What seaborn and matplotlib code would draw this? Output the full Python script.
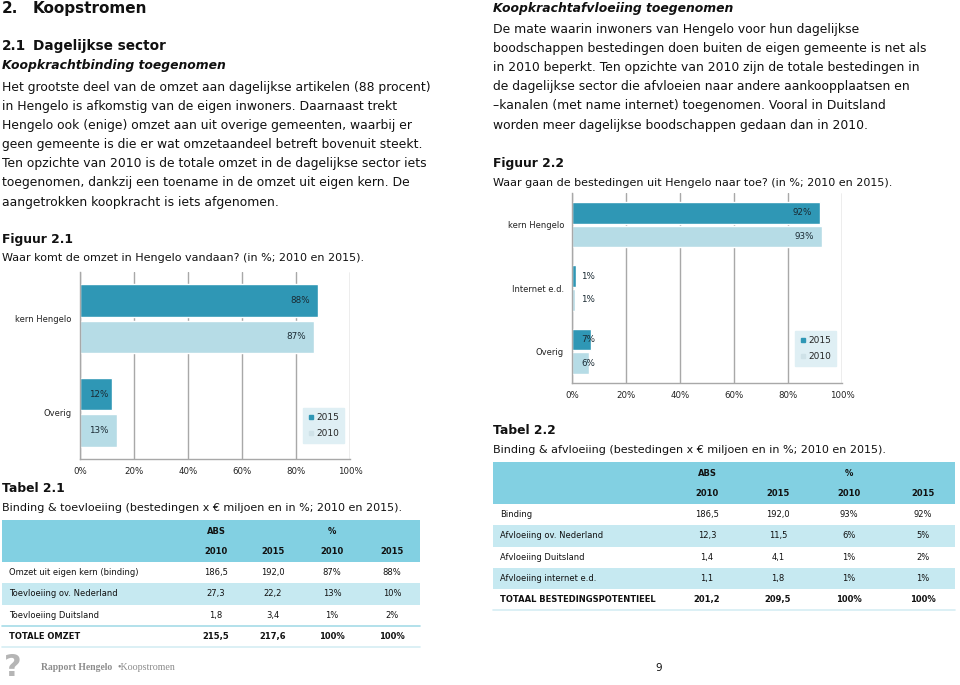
import matplotlib
matplotlib.use("Agg")
import numpy as np
import pandas as pd
import matplotlib.pyplot as plt
from matplotlib.patches import Rectangle
from matplotlib.lines import Line2D
import seaborn as sns

# Data #

years = ['2015', '2010']

cats1 = ['kern Hengelo', 'Overig']
fig1_2015 = [88.3, 11.9]
fig1_2010 = [86.6, 13.6]
fig1_lab_2015 = ['88%', '12%']
fig1_lab_2010 = ['87%', '13%']

cats2 = ['kern Hengelo', 'Internet e.d.', 'Overig']
fig2_2015 = [91.6, 1.4, 6.8]
fig2_2010 = [92.6, 0.9, 6.2]
fig2_lab_2015 = ['92%', '1%', '7%']
fig2_lab_2010 = ['93%', '1%', '6%']

x_ticks = [0, 20, 40, 60, 80, 100]

t1_rows = ['Omzet uit eigen kern (binding)', 'Toevloeiing ov. Nederland',
           'Toevloeiing Duitsland', 'TOTALE OMZET']
t1_abs_2010 = [186.5, 27.3, 1.8, 215.5]
t1_abs_2015 = [192.0, 22.2, 3.4, 217.6]
t1_pct_2010 = [87, 13, 1, 100]
t1_pct_2015 = [88, 10, 2, 100]

t2_rows = ['Binding', 'Afvloeiing ov. Nederland', 'Afvloeiing Duitsland',
           'Afvloeiing internet e.d.', 'TOTAAL BESTEDINGSPOTENTIEEL']
t2_abs_2010 = [186.5, 12.3, 1.4, 1.1, 201.2]
t2_abs_2015 = [192.0, 11.5, 4.1, 1.8, 209.5]
t2_pct_2010 = [93, 6, 1, 1, 100]
t2_pct_2015 = [92, 5, 2, 1, 100]

text_left = [
    "Het grootste deel van de omzet aan dagelijkse artikelen (88 procent)",
    "in Hengelo is afkomstig van de eigen inwoners. Daarnaast trekt",
    "Hengelo ook (enige) omzet aan uit overige gemeenten, waarbij er",
    "geen gemeente is die er wat omzetaandeel betreft bovenuit steekt.",
    "Ten opzichte van 2010 is de totale omzet in de dagelijkse sector iets",
    "toegenomen, dankzij een toename in de omzet uit eigen kern. De",
    "aangetrokken koopkracht is iets afgenomen.",
]
text_right = [
    "De mate waarin inwoners van Hengelo voor hun dagelijkse",
    "boodschappen bestedingen doen buiten de eigen gemeente is net als",
    "in 2010 beperkt. Ten opzichte van 2010 zijn de totale bestedingen in",
    "de dagelijkse sector die afvloeien naar andere aankoopplaatsen en",
    "\u2013kanalen (met name internet) toegenomen. Vooral in Duitsland",
    "worden meer dagelijkse boodschappen gedaan dan in 2010.",
]

# Style #

sns.set_style('white')
plt.rcParams['font.family'] = ['DejaVu Sans']

dark = '#2f97b5'
light = '#b6dce6'
grid_c = '#a8a8a8'
head_c = '#82d0e2'
shade_c = '#c6e9f1'
txt_c = '#111111'
body_fs = 8.9
cap_fs = 8.05

W, H = 960, 685
fig = plt.figure(figsize=(W / 100, H / 100), dpi=100)
fig.patch.set_facecolor('white')


def ftext(x, y, s, **kw):
    kw.setdefault('fontsize', body_fs)
    kw.setdefault('color', txt_c)
    kw.setdefault('va', 'center')
    fig.text(x / W, 1 - y / H, s, **kw)


def frect(x, y, w, h, color):
    fig.add_artist(Rectangle((x / W, 1 - (y + h) / H), w / W, h / H,
                             transform=fig.transFigure, color=color, lw=0, zorder=0))


def fline(x0, x1, y, color, lw=1.2):
    fig.add_artist(Line2D([x0 / W, x1 / W], [1 - y / H, 1 - y / H],
                          transform=fig.transFigure, color=color, lw=lw))


# Text left column #
ftext(2, 8.5, "2.", fontsize=11, fontweight='bold')
ftext(33, 8.5, "Koopstromen", fontsize=11, fontweight='bold')
ftext(2, 46, "2.1", fontsize=9.8, fontweight='bold')
ftext(33, 46, "Dagelijkse sector", fontsize=9.8, fontweight='bold')
ftext(2, 66, "Koopkrachtbinding toegenomen", fontweight='bold', style='italic')
for i, line in enumerate(text_left):
    ftext(2, 87 + i * 19.2, line)
ftext(2, 239, "Figuur 2.1", fontweight='bold')
ftext(2, 258, "Waar komt de omzet in Hengelo vandaan? (in %; 2010 en 2015).", fontsize=cap_fs)

# Text right column #
ftext(493, 8.5, "Koopkrachtafvloeiing toegenomen", fontweight='bold', style='italic')
for i, line in enumerate(text_right):
    ftext(493, 29 + i * 19.2, line)
ftext(493, 163, "Figuur 2.2", fontweight='bold')
ftext(493, 183, "Waar gaan de bestedingen uit Hengelo naar toe? (in %; 2010 en 2015).", fontsize=cap_fs)


# Charts #
def bar_chart(rect, cats, v2015, v2010, lab2015, lab2010, width, gap, leg_xy):
    ax = fig.add_axes(rect)
    df = pd.DataFrame({'cat': cats * 2,
                       'year': [years[0]] * len(cats) + [years[1]] * len(cats),
                       'val': v2015 + v2010})
    sns.barplot(data=df, y='cat', x='val', hue='year', hue_order=years,
                palette=[dark, light], saturation=1, width=width, gap=gap,
                legend=False, ax=ax)
    ax.set_xlim(0, 100)
    ax.set_xticks(x_ticks)
    ax.set_xticklabels([f"{t}%" for t in x_ticks])
    ax.set_xlabel('')
    ax.set_ylabel('')
    ax.grid(axis='x', color=grid_c, lw=1)
    ax.set_axisbelow(True)
    for s in ['top', 'right']:
        ax.spines[s].set_visible(False)
    for s in ['left', 'bottom']:
        ax.spines[s].set_color(grid_c)
        ax.spines[s].set_linewidth(1)
    ax.tick_params(axis='x', length=0, pad=6, labelsize=6.2, colors='#222222')
    ax.tick_params(axis='y', which='major', length=0, pad=6, labelsize=6.0, colors='#222222')
    ax.set_yticks(np.arange(len(cats) + 1) - 0.5, minor=True)
    ax.tick_params(axis='y', which='minor', length=3, color=grid_c, width=1)
    for cont, labs in zip(ax.containers, [lab2015, lab2010]):
        for bar, lab in zip(cont, labs):
            yc = bar.get_y() + bar.get_height() / 2
            w = bar.get_width()
            if w > 20:
                ax.text(w - 3, yc, lab, ha='right', va='center', fontsize=6.3, color='#1a2a33')
            else:
                ax.text(3.3, yc, lab, ha='left', va='center', fontsize=6.3, color='#1a2a33')
    handles = [Line2D([], [], marker='s', ls='', color=c, markersize=3.2) for c in [dark, '#cfe2e8']]
    ax.legend(handles, years, loc='center', bbox_to_anchor=leg_xy, fontsize=6.5,
              frameon=True, fancybox=False, facecolor='#dfeff4', edgecolor='#dfeff4',
              framealpha=1, handlelength=0.7, handletextpad=0.2, labelspacing=0.75,
              borderpad=0.55)
    return ax


bar_chart([80 / W, 1 - 459 / H, 270 / W, 187 / H], cats1, fig1_2015, fig1_2010,
          fig1_lab_2015, fig1_lab_2010, 0.78, 0.1, (0.903, 0.18))
bar_chart([572.3 / W, 1 - 383 / H, 270 / W, 190 / H], cats2, fig2_2015, fig2_2010,
          fig2_lab_2015, fig2_lab_2010, 0.75, 0.08, (0.902, 0.18))


# Tables #
def fmt_abs(v):
    return f"{v:.1f}".replace('.', ',')


def draw_table(x0, x1, top, col_x, rows, c1, c2, c3, c4, shaded, sep_line):
    head_h, row_h = 42, 21.3
    frect(x0, top, x1 - x0, head_h, head_c)
    ftext(col_x[0], top + 11, "ABS", fontsize=6, fontweight='bold', ha='center')
    ftext(col_x[2], top + 11, "%", fontsize=6, fontweight='bold', ha='center')
    for cx, yr in zip(col_x, ['2010', '2015', '2010', '2015']):
        ftext(cx, top + 31, yr, fontsize=6, fontweight='bold', ha='center')
    y = top + head_h
    n = len(rows)
    for i in range(n):
        if i in shaded:
            frect(x0, y, x1 - x0, row_h, shade_c)
        bold = 'bold' if i == n - 1 else 'normal'
        if i == n - 1 and sep_line:
            fline(x0, x1, y, '#a6dbe7', 1.2)
        yc = y + row_h / 2
        ftext(x0 + 7, yc, rows[i], fontsize=6, fontweight=bold)
        vals = [fmt_abs(c1[i]), fmt_abs(c2[i]), f"{c3[i]}%", f"{c4[i]}%"]
        for cx, v in zip(col_x, vals):
            ftext(cx, yc, v, fontsize=6, fontweight=bold, ha='center')
        y += row_h
    fline(x0, x1, y, '#d6edf3', 1.2)


ftext(2, 488, "Tabel 2.1", fontweight='bold')
ftext(2, 508, "Binding & toevloeiing (bestedingen x \u20ac miljoen en in %; 2010 en 2015).", fontsize=cap_fs)
draw_table(2, 420, 520, [216, 273, 332, 392], t1_rows,
           t1_abs_2010, t1_abs_2015, t1_pct_2010, t1_pct_2015, [1], True)

ftext(493, 431, "Tabel 2.2", fontweight='bold')
ftext(493, 450, "Binding & afvloeiing (bestedingen x \u20ac miljoen en in %; 2010 en 2015).", fontsize=cap_fs)
draw_table(493, 955, 462, [707, 778, 849, 923], t2_rows,
           t2_abs_2010, t2_abs_2015, t2_pct_2010, t2_pct_2015, [1, 3], False)

# Footer #
ftext(13, 653, "?", fontsize=22, fontweight='bold', color='#b5b5b5', ha='center', va='top')
ftext(41, 668, "Rapport Hengelo", fontsize=6.9, fontweight='bold', color='#8c8c8c',
      family='Liberation Serif')
ftext(117, 668, "\u2022Koopstromen", fontsize=7.2, color='#8c8c8c', family='Liberation Serif')
ftext(659, 668, "9", fontsize=7.5, ha='center')

fig.savefig('out.png', dpi=100)
